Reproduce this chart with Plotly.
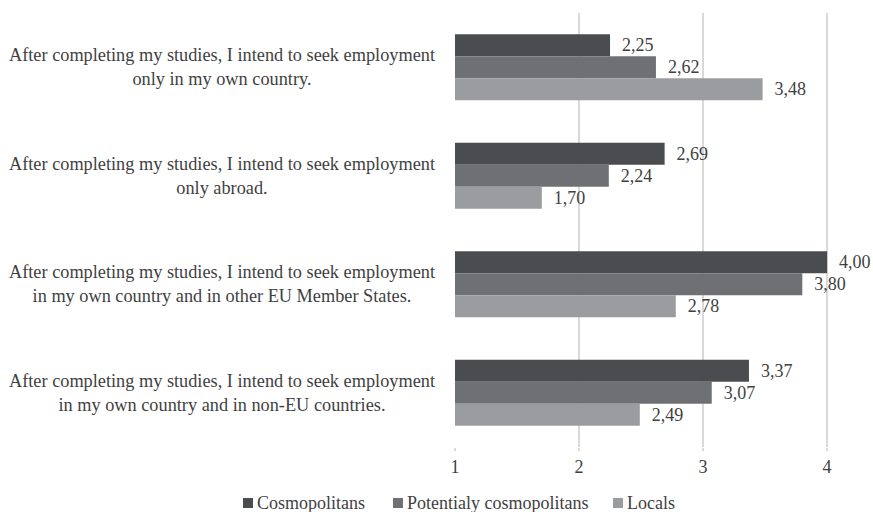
import plotly.graph_objects as go

categories = [
    "After completing my studies, I intend to seek employment<br>only in my own country.",
    "After completing my studies, I intend to seek employment<br>only abroad.",
    "After completing my studies, I intend to seek employment<br>in my own country and in other EU Member States.",
    "After completing my studies, I intend to seek employment<br>in my own country and in non-EU countries.",
]
series_names = ["Cosmopolitans", "Potentialy cosmopolitans", "Locals"]
cosmopolitans = [2.25, 2.69, 4.00, 3.37]
potentially = [2.62, 2.24, 3.80, 3.07]
locals_ = [3.48, 1.70, 2.78, 2.49]
x_ticks = [1, 2, 3, 4]

colors = ["#4b4c4f", "#6f7074", "#9b9c9f"]
FONT = "Liberation Serif, Times New Roman, serif"
TXT = "#3f3f3f"
FS = 18

W, H = 873, 512
ML, MR, MT, MB = 455, 0, 13, 65
PW, PH = W - ML - MR, H - MT - MB


def px2paper(px, py):
    return (px - ML) / PW, (H - MB - py) / PH


fig = go.Figure()
for name, vals, col in zip(series_names, [cosmopolitans, potentially, locals_], colors):
    fig.add_trace(go.Bar(
        y=categories, x=[v - 1 for v in vals], base=1, orientation="h", name=name,
        marker=dict(color=col, line=dict(width=0)),
        text=["\u2007" + f"{v:.2f}".replace(".", ",") for v in vals],
        textposition="outside", cliponaxis=False,
        textfont=dict(family=FONT, size=FS, color=TXT),
        showlegend=False,
    ))

for c in categories:
    fig.add_annotation(text=c, xref="paper", yref="y", x=-0.043, y=c,
                       xanchor="right", yanchor="middle", align="center",
                       showarrow=False, font=dict(family=FONT, size=18.3, color=TXT))

# legend drawn as squares + labels
legend_px = [243, 393, 613]
for name, col, lx in zip(series_names, colors, legend_px):
    x0, y0 = px2paper(lx, 508)
    x1, y1 = px2paper(lx + 10, 498)
    fig.add_shape(type="rect", xref="paper", yref="paper", x0=x0, y0=y0, x1=x1, y1=y1,
                  fillcolor=col, line=dict(width=0))
    tx, ty = px2paper(lx + 12, 503)
    fig.add_annotation(text=name, xref="paper", yref="paper", x=tx, y=ty,
                       xanchor="left", yanchor="middle", showarrow=False,
                       font=dict(family=FONT, size=FS, color=TXT))

fig.update_layout(
    width=W, height=H,
    margin=dict(l=ML, r=MR, t=MT, b=MB, autoexpand=False),
    barmode="group", bargap=0.39, bargroupgap=0,
    plot_bgcolor="white", paper_bgcolor="white",
    font=dict(family=FONT, size=FS, color=TXT),
    showlegend=False,
)
fig.update_xaxes(range=[1, 4.37], tickvals=x_ticks, ticktext=[str(t) for t in x_ticks],
                 showgrid=True, gridcolor="#d9d9d9", gridwidth=1.5, zeroline=False,
                 showline=False, ticks="outside", ticklen=3, tickcolor="#d9d9d9",
                 tickwidth=1.5, ticklabelstandoff=0,
                 tickfont=dict(family=FONT, size=FS, color=TXT))
fig.update_yaxes(autorange="reversed", showticklabels=False, showgrid=False, showline=False)

fig.write_html("out.html")
